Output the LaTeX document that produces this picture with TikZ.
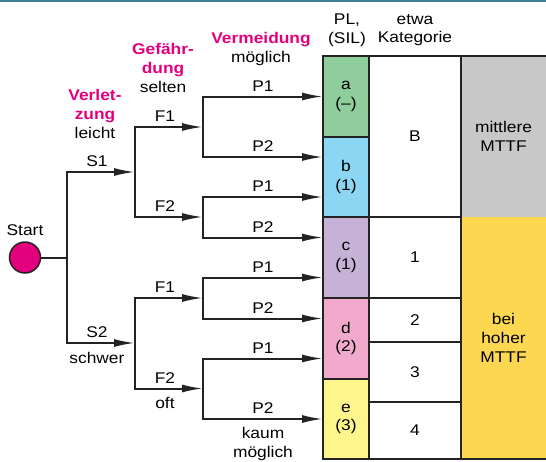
\documentclass[tikz,border=0pt]{standalone}
\usepackage{fontspec}
\setmainfont{Liberation Sans}[FakeStretch=1.12]
\usetikzlibrary{arrows.meta,positioning}

\definecolor{accent}{RGB}{228,0,125}
\definecolor{inkline}{RGB}{35,35,35}
\definecolor{topbar}{RGB}{60,131,151}
\definecolor{plA}{RGB}{143,205,156}
\definecolor{plB}{RGB}{140,214,243}
\definecolor{plC}{RGB}{198,178,214}
\definecolor{plD}{RGB}{241,170,203}
\definecolor{plE}{RGB}{254,245,140}
\definecolor{mttfMid}{RGB}{200,200,200}
\definecolor{mttfHigh}{RGB}{254,215,80}
\newcommand{\hlt}[1]{\textcolor{accent}{\bfseries #1}}

\begin{document}
\begin{tikzpicture}[x=1pt, y=-1pt,
  font=\fontsize{15.5}{18.8}\selectfont,
  wire/.style={line width=2pt, draw=inkline},
  flow/.style={wire, -{Latex[length=21pt, width=8pt]}},
  cell/.style={draw=inkline, line width=2pt, outer sep=0pt, inner sep=0pt,
    align=center, anchor=north west},
  plcell/.style={cell, minimum width=46},
  katcell/.style={cell, minimum width=92},
  mcell/.style={outer sep=0pt, inner sep=0pt, align=center,
    anchor=north west, minimum width=85},
  head/.style={align=center, inner sep=0pt}
]
  \useasboundingbox (0,0) rectangle (546,461);
  \draw[topbar, line width=2.5pt] (0,1) -- (546,1);

  % column headers
  \node[head] (hS) at (95,114) {\hlt{Verlet-}\\\hlt{zung}\\leicht};
  \node[head] (hF) at (163,68) {\hlt{Gef\"ahr-}\\\hlt{dung}\\selten};
  \node[head] (hP) at (261,49) {\hlt{Vermeidung}\\m\"oglich};
  \node[head] (hPL) at (347,30) {PL,\\(SIL)};
  \node[head] (hK) at (415,30) {etwa\\Kategorie};

  % PL column
  \node[plcell, fill=plA, minimum height=81] (a) at (323,56) {a\\(--)};
  \node[plcell, fill=plB, minimum height=80, below=0pt of a] (b) {b\\(1)};
  \node[plcell, fill=plC, minimum height=81, below=0pt of b] (c) {c\\(1)};
  \node[plcell, fill=plD, minimum height=81, below=0pt of c] (d) {d\\(2)};
  \node[plcell, fill=plE, minimum height=80, below=0pt of d] (e) {e\\(3)};

  % Kategorie column
  \node[katcell, minimum height=161] (kB) at (369,56) {B};
  \node[katcell, minimum height=81, below=0pt of kB] (k1) {1};
  \node[katcell, minimum height=44, below=0pt of k1] (k2) {2};
  \node[katcell, minimum height=60, below=0pt of k2] (k3) {3};
  \node[katcell, minimum height=57, below=0pt of k3] (k4) {4};

  % MTTF column
  \node[mcell, fill=mttfMid, minimum height=161] (mMid) at (461,56) {mittlere\\MTTF};
  \node[mcell, fill=mttfHigh, minimum height=242, below=0pt of mMid] (mHigh) {bei\\hoher\\MTTF};
  \draw[wire] (mMid.north west) -- (mMid.north east);
  \draw[wire] (mHigh.south west) -- (mHigh.south east);
  \draw[wire] (mMid.north west) -- (mHigh.south west);

  % tree
  \node[circle, draw=inkline, line width=1.5pt, fill=accent, minimum size=31,
    inner sep=0pt] (start) at (25,257.5) {};
  \node[above=2pt of start] (lstart) {Start};
  \coordinate (sj) at (67,257.5);
  \coordinate (s1) at (135,172);
  \coordinate (s2) at (135,343);
  \coordinate (f11) at (203,127);
  \coordinate (f12) at (203,217);
  \coordinate (f21) at (203,298);
  \coordinate (f22) at (203,388.5);

  \draw[wire] (start) -- (sj);
  \draw[flow] (sj) |- node[pos=0.72, above=1pt] (lS1) {S1} (s1);
  \draw[flow] (sj) |- node[pos=0.72, above=1pt] (lS2) {S2}
    node[pos=0.72, below=5pt] (lschwer) {schwer} (s2);

  \draw[flow] (s1) |- node[pos=0.72, above=1pt] (lF11) {F1} (f11);
  \draw[flow] (s1) |- node[pos=0.72, above=1pt] (lF12) {F2} (f12);
  \draw[flow] (s2) |- node[pos=0.72, above=1pt] (lF21) {F1} (f21);
  \draw[flow] (s2) |- node[pos=0.72, above=1pt] (lF22) {F2}
    node[pos=0.72, below=4pt] (loft) {oft} (f22);

  \draw[flow] (f11) |- node[pos=0.75, above=1pt] {P1} (a.west);
  \draw[flow] (f11) |- node[pos=0.75, above=1pt] {P2} ([yshift=20pt]b.west);
  \draw[flow] (f12) |- node[pos=0.75, above=1pt] {P1} ([yshift=-20pt]b.west);
  \draw[flow] (f12) |- node[pos=0.75, above=1pt] {P2} ([yshift=20pt]c.west);
  \draw[flow] (f21) |- node[pos=0.75, above=1pt] {P1} ([yshift=-20pt]c.west);
  \draw[flow] (f21) |- node[pos=0.75, above=1pt] {P2} ([yshift=20pt]d.west);
  \draw[flow] (f22) |- node[pos=0.75, above=1pt] {P1} ([yshift=-20pt]d.west);
  \draw[flow] (f22) |- node[pos=0.75, above=1pt] {P2}
    node[pos=0.75, below=4pt, align=center] (lkaum) {kaum\\m\"oglich} (e.west);
\end{tikzpicture}
\end{document}
